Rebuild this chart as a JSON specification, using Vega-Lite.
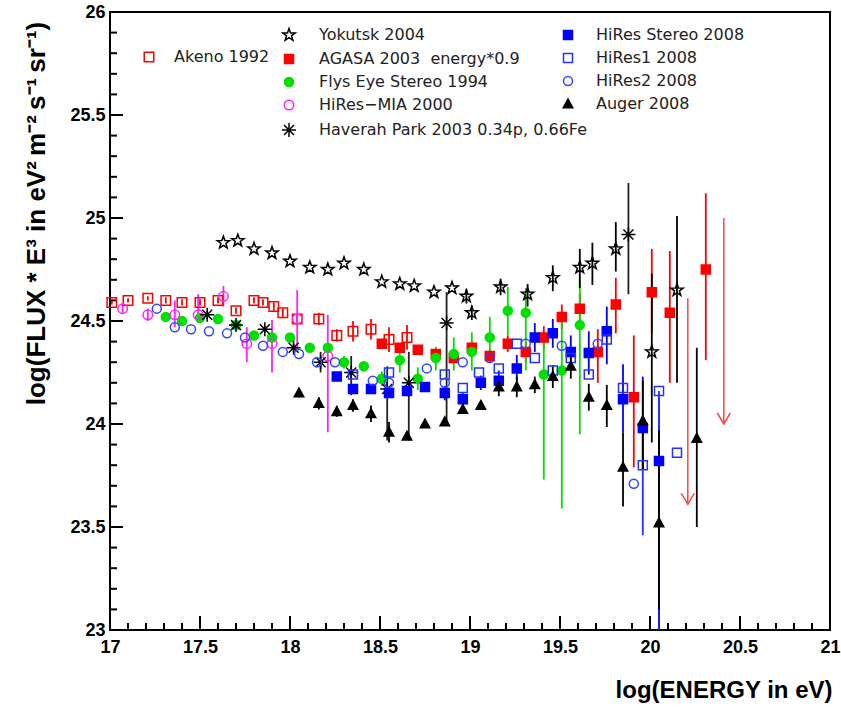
{
  "$schema": "https://vega.github.io/schema/vega-lite/v6.json",
  "width": 720,
  "height": 618,
  "autosize": {"type": "none"},
  "padding": {"left": 110, "top": 12, "right": 11, "bottom": 79},
  "background": "white",
  "datasets": {
    "xmaj": [{"v":17},{"v":17.5},{"v":18},{"v":18.5},{"v":19},{"v":19.5},{"v":20},{"v":20.5},{"v":21}],
    "xmin": [{"v":17.1},{"v":17.2},{"v":17.3},{"v":17.4},{"v":17.6},{"v":17.7},{"v":17.8},{"v":17.9},{"v":18.1},{"v":18.2},{"v":18.3},{"v":18.4},{"v":18.6},{"v":18.7},{"v":18.8},{"v":18.9},{"v":19.1},{"v":19.2},{"v":19.3},{"v":19.4},{"v":19.6},{"v":19.7},{"v":19.8},{"v":19.9},{"v":20.1},{"v":20.2},{"v":20.3},{"v":20.4},{"v":20.6},{"v":20.7},{"v":20.8},{"v":20.9}],
    "ymaj": [{"v":23},{"v":23.5},{"v":24},{"v":24.5},{"v":25},{"v":25.5},{"v":26}],
    "ymin": [{"v":23.1},{"v":23.2},{"v":23.3},{"v":23.4},{"v":23.6},{"v":23.7},{"v":23.8},{"v":23.9},{"v":24.1},{"v":24.2},{"v":24.3},{"v":24.4},{"v":24.6},{"v":24.7},{"v":24.8},{"v":24.9},{"v":25.1},{"v":25.2},{"v":25.3},{"v":25.4},{"v":25.6},{"v":25.7},{"v":25.8},{"v":25.9}],
    "pts": [
      {"s":"Akeno 1992","x":17.01,"y":24.59,"lo":24.58,"hi":24.60},
      {"s":"Akeno 1992","x":17.10,"y":24.60,"lo":24.59,"hi":24.61},
      {"s":"Akeno 1992","x":17.21,"y":24.61,"lo":24.60,"hi":24.62},
      {"s":"Akeno 1992","x":17.31,"y":24.60,"lo":24.585,"hi":24.615},
      {"s":"Akeno 1992","x":17.40,"y":24.59,"lo":24.575,"hi":24.605},
      {"s":"Akeno 1992","x":17.50,"y":24.59,"lo":24.575,"hi":24.605},
      {"s":"Akeno 1992","x":17.60,"y":24.60,"lo":24.585,"hi":24.615},
      {"s":"Akeno 1992","x":17.70,"y":24.55,"lo":24.535,"hi":24.565},
      {"s":"Akeno 1992","x":17.80,"y":24.60,"lo":24.585,"hi":24.615},
      {"s":"Akeno 1992","x":17.85,"y":24.59,"lo":24.575,"hi":24.605},
      {"s":"Akeno 1992","x":17.91,"y":24.57,"lo":24.55,"hi":24.59},
      {"s":"Akeno 1992","x":17.96,"y":24.54,"lo":24.52,"hi":24.56},
      {"s":"Akeno 1992","x":18.04,"y":24.51,"lo":24.49,"hi":24.53},
      {"s":"Akeno 1992","x":18.16,"y":24.51,"lo":24.48,"hi":24.54},
      {"s":"Akeno 1992","x":18.26,"y":24.43,"lo":24.40,"hi":24.46},
      {"s":"Akeno 1992","x":18.35,"y":24.45,"lo":24.40,"hi":24.50},
      {"s":"Akeno 1992","x":18.45,"y":24.46,"lo":24.41,"hi":24.51},
      {"s":"Akeno 1992","x":18.55,"y":24.41,"lo":24.35,"hi":24.47},
      {"s":"Akeno 1992","x":18.65,"y":24.42,"lo":24.36,"hi":24.48},

      {"s":"AGASA 2003\u00a0 energy*0.9","x":18.51,"y":24.39,"lo":24.375,"hi":24.405},
      {"s":"AGASA 2003\u00a0 energy*0.9","x":18.61,"y":24.37,"lo":24.355,"hi":24.385},
      {"s":"AGASA 2003\u00a0 energy*0.9","x":18.71,"y":24.36,"lo":24.345,"hi":24.375},
      {"s":"AGASA 2003\u00a0 energy*0.9","x":18.81,"y":24.34,"lo":24.315,"hi":24.365},
      {"s":"AGASA 2003\u00a0 energy*0.9","x":18.91,"y":24.32,"lo":24.295,"hi":24.345},
      {"s":"AGASA 2003\u00a0 energy*0.9","x":19.01,"y":24.37,"lo":24.34,"hi":24.40},
      {"s":"AGASA 2003\u00a0 energy*0.9","x":19.11,"y":24.33,"lo":24.30,"hi":24.36},
      {"s":"AGASA 2003\u00a0 energy*0.9","x":19.21,"y":24.39,"lo":24.35,"hi":24.43},
      {"s":"AGASA 2003\u00a0 energy*0.9","x":19.31,"y":24.35,"lo":24.30,"hi":24.40},
      {"s":"AGASA 2003\u00a0 energy*0.9","x":19.41,"y":24.42,"lo":24.365,"hi":24.475},
      {"s":"AGASA 2003\u00a0 energy*0.9","x":19.51,"y":24.52,"lo":24.46,"hi":24.58},
      {"s":"AGASA 2003\u00a0 energy*0.9","x":19.61,"y":24.56,"lo":24.485,"hi":24.635},
      {"s":"AGASA 2003\u00a0 energy*0.9","x":19.71,"y":24.35,"lo":24.20,"hi":24.46},
      {"s":"AGASA 2003\u00a0 energy*0.9","x":19.81,"y":24.58,"lo":24.44,"hi":24.71},
      {"s":"AGASA 2003\u00a0 energy*0.9","x":19.91,"y":24.13,"lo":23.79,"hi":24.43},
      {"s":"AGASA 2003\u00a0 energy*0.9","x":20.01,"y":24.64,"lo":24.44,"hi":24.85},
      {"s":"AGASA 2003\u00a0 energy*0.9","x":20.11,"y":24.54,"lo":24.20,"hi":24.84},
      {"s":"AGASA 2003\u00a0 energy*0.9","x":20.31,"y":24.75,"lo":24.31,"hi":25.12},

      {"s":"Flys Eye Stereo 1994","x":17.31,"y":24.52,"lo":24.505,"hi":24.535},
      {"s":"Flys Eye Stereo 1994","x":17.40,"y":24.50,"lo":24.485,"hi":24.515},
      {"s":"Flys Eye Stereo 1994","x":17.50,"y":24.515,"lo":24.50,"hi":24.53},
      {"s":"Flys Eye Stereo 1994","x":17.60,"y":24.51,"lo":24.495,"hi":24.525},
      {"s":"Flys Eye Stereo 1994","x":17.70,"y":24.48,"lo":24.465,"hi":24.495},
      {"s":"Flys Eye Stereo 1994","x":17.80,"y":24.43,"lo":24.415,"hi":24.445},
      {"s":"Flys Eye Stereo 1994","x":17.90,"y":24.42,"lo":24.405,"hi":24.435},
      {"s":"Flys Eye Stereo 1994","x":18.00,"y":24.42,"lo":24.405,"hi":24.435},
      {"s":"Flys Eye Stereo 1994","x":18.11,"y":24.37,"lo":24.35,"hi":24.39},
      {"s":"Flys Eye Stereo 1994","x":18.21,"y":24.37,"lo":24.35,"hi":24.39},
      {"s":"Flys Eye Stereo 1994","x":18.30,"y":24.30,"lo":24.27,"hi":24.33},
      {"s":"Flys Eye Stereo 1994","x":18.41,"y":24.28,"lo":24.255,"hi":24.305},
      {"s":"Flys Eye Stereo 1994","x":18.51,"y":24.22,"lo":24.185,"hi":24.255},
      {"s":"Flys Eye Stereo 1994","x":18.61,"y":24.31,"lo":24.25,"hi":24.37},
      {"s":"Flys Eye Stereo 1994","x":18.71,"y":24.22,"lo":24.165,"hi":24.275},
      {"s":"Flys Eye Stereo 1994","x":18.81,"y":24.32,"lo":24.26,"hi":24.375},
      {"s":"Flys Eye Stereo 1994","x":18.91,"y":24.34,"lo":24.26,"hi":24.42},
      {"s":"Flys Eye Stereo 1994","x":19.01,"y":24.35,"lo":24.26,"hi":24.445},
      {"s":"Flys Eye Stereo 1994","x":19.11,"y":24.42,"lo":24.325,"hi":24.52},
      {"s":"Flys Eye Stereo 1994","x":19.21,"y":24.55,"lo":24.43,"hi":24.665},
      {"s":"Flys Eye Stereo 1994","x":19.31,"y":24.54,"lo":24.26,"hi":24.66},
      {"s":"Flys Eye Stereo 1994","x":19.41,"y":24.24,"lo":23.73,"hi":24.42},
      {"s":"Flys Eye Stereo 1994","x":19.51,"y":24.26,"lo":23.59,"hi":24.52},
      {"s":"Flys Eye Stereo 1994","x":19.61,"y":24.48,"lo":23.95,"hi":24.71},

      {"s":"HiRes\u2212MIA 2000","x":17.07,"y":24.56,"lo":24.535,"hi":24.585},
      {"s":"HiRes\u2212MIA 2000","x":17.21,"y":24.53,"lo":24.50,"hi":24.56},
      {"s":"HiRes\u2212MIA 2000","x":17.36,"y":24.53,"lo":24.47,"hi":24.60},
      {"s":"HiRes\u2212MIA 2000","x":17.49,"y":24.53,"lo":24.49,"hi":24.63},
      {"s":"HiRes\u2212MIA 2000","x":17.63,"y":24.62,"lo":24.57,"hi":24.67},
      {"s":"HiRes\u2212MIA 2000","x":17.76,"y":24.39,"lo":24.30,"hi":24.47},
      {"s":"HiRes\u2212MIA 2000","x":17.90,"y":24.39,"lo":24.25,"hi":24.505},
      {"s":"HiRes\u2212MIA 2000","x":18.04,"y":24.51,"lo":24.36,"hi":24.65},
      {"s":"HiRes\u2212MIA 2000","x":18.21,"y":24.33,"lo":23.96,"hi":24.53},

      {"s":"Haverah Park 2003 0.34p, 0.66Fe","x":17.54,"y":24.53,"lo":24.51,"hi":24.55},
      {"s":"Haverah Park 2003 0.34p, 0.66Fe","x":17.70,"y":24.48,"lo":24.465,"hi":24.495},
      {"s":"Haverah Park 2003 0.34p, 0.66Fe","x":17.86,"y":24.46,"lo":24.445,"hi":24.475},
      {"s":"Haverah Park 2003 0.34p, 0.66Fe","x":18.02,"y":24.37,"lo":24.35,"hi":24.39},
      {"s":"Haverah Park 2003 0.34p, 0.66Fe","x":18.17,"y":24.30,"lo":24.25,"hi":24.35},
      {"s":"Haverah Park 2003 0.34p, 0.66Fe","x":18.34,"y":24.25,"lo":24.14,"hi":24.33},
      {"s":"Haverah Park 2003 0.34p, 0.66Fe","x":18.54,"y":24.17,"lo":23.92,"hi":24.28},
      {"s":"Haverah Park 2003 0.34p, 0.66Fe","x":18.66,"y":24.20,"lo":23.92,"hi":24.35},
      {"s":"Haverah Park 2003 0.34p, 0.66Fe","x":18.87,"y":24.49,"lo":24.00,"hi":24.64},
      {"s":"Haverah Park 2003 0.34p, 0.66Fe","x":19.88,"y":24.92,"lo":24.63,"hi":25.17},

      {"s":"Yokutsk 2004","x":17.63,"y":24.88},
      {"s":"Yokutsk 2004","x":17.71,"y":24.89},
      {"s":"Yokutsk 2004","x":17.80,"y":24.85},
      {"s":"Yokutsk 2004","x":17.90,"y":24.83},
      {"s":"Yokutsk 2004","x":18.00,"y":24.79},
      {"s":"Yokutsk 2004","x":18.11,"y":24.76},
      {"s":"Yokutsk 2004","x":18.21,"y":24.75},
      {"s":"Yokutsk 2004","x":18.30,"y":24.78},
      {"s":"Yokutsk 2004","x":18.41,"y":24.75},
      {"s":"Yokutsk 2004","x":18.51,"y":24.69},
      {"s":"Yokutsk 2004","x":18.61,"y":24.68},
      {"s":"Yokutsk 2004","x":18.69,"y":24.67},
      {"s":"Yokutsk 2004","x":18.80,"y":24.64},
      {"s":"Yokutsk 2004","x":18.90,"y":24.66},
      {"s":"Yokutsk 2004","x":18.98,"y":24.62,"lo":24.585,"hi":24.655},
      {"s":"Yokutsk 2004","x":19.01,"y":24.54,"lo":24.505,"hi":24.575},
      {"s":"Yokutsk 2004","x":19.17,"y":24.665,"lo":24.625,"hi":24.705},
      {"s":"Yokutsk 2004","x":19.32,"y":24.63,"lo":24.57,"hi":24.68},
      {"s":"Yokutsk 2004","x":19.46,"y":24.71,"lo":24.645,"hi":24.77},
      {"s":"Yokutsk 2004","x":19.61,"y":24.76,"lo":24.66,"hi":24.85},
      {"s":"Yokutsk 2004","x":19.68,"y":24.78,"lo":24.675,"hi":24.88},
      {"s":"Yokutsk 2004","x":19.81,"y":24.85,"lo":24.74,"hi":24.98},
      {"s":"Yokutsk 2004","x":20.01,"y":24.35,"lo":23.91,"hi":24.73},
      {"s":"Yokutsk 2004","x":20.15,"y":24.65,"lo":24.20,"hi":25.01},

      {"s":"HiRes Stereo 2008","x":18.26,"y":24.23,"lo":24.22,"hi":24.24},
      {"s":"HiRes Stereo 2008","x":18.35,"y":24.17,"lo":24.16,"hi":24.18},
      {"s":"HiRes Stereo 2008","x":18.45,"y":24.17,"lo":24.16,"hi":24.18},
      {"s":"HiRes Stereo 2008","x":18.55,"y":24.15,"lo":24.135,"hi":24.165},
      {"s":"HiRes Stereo 2008","x":18.65,"y":24.16,"lo":24.145,"hi":24.175},
      {"s":"HiRes Stereo 2008","x":18.75,"y":24.18,"lo":24.16,"hi":24.20},
      {"s":"HiRes Stereo 2008","x":18.86,"y":24.15,"lo":24.115,"hi":24.185},
      {"s":"HiRes Stereo 2008","x":18.96,"y":24.12,"lo":24.09,"hi":24.15},
      {"s":"HiRes Stereo 2008","x":19.06,"y":24.20,"lo":24.165,"hi":24.235},
      {"s":"HiRes Stereo 2008","x":19.16,"y":24.21,"lo":24.16,"hi":24.26},
      {"s":"HiRes Stereo 2008","x":19.26,"y":24.27,"lo":24.205,"hi":24.335},
      {"s":"HiRes Stereo 2008","x":19.36,"y":24.42,"lo":24.35,"hi":24.49},
      {"s":"HiRes Stereo 2008","x":19.46,"y":24.44,"lo":24.37,"hi":24.51},
      {"s":"HiRes Stereo 2008","x":19.56,"y":24.35,"lo":24.27,"hi":24.43},
      {"s":"HiRes Stereo 2008","x":19.66,"y":24.345,"lo":24.24,"hi":24.45},
      {"s":"HiRes Stereo 2008","x":19.76,"y":24.45,"lo":24.29,"hi":24.57},
      {"s":"HiRes Stereo 2008","x":19.85,"y":24.12,"lo":23.96,"hi":24.29},
      {"s":"HiRes Stereo 2008","x":19.96,"y":23.98,"lo":23.78,"hi":24.23},
      {"s":"HiRes Stereo 2008","x":20.05,"y":23.82,"lo":23.0,"hi":24.13},

      {"s":"HiRes1 2008","x":18.35,"y":24.24},
      {"s":"HiRes1 2008","x":18.55,"y":24.25},
      {"s":"HiRes1 2008","x":18.86,"y":24.24},
      {"s":"HiRes1 2008","x":18.96,"y":24.175},
      {"s":"HiRes1 2008","x":19.05,"y":24.25},
      {"s":"HiRes1 2008","x":19.16,"y":24.27},
      {"s":"HiRes1 2008","x":19.26,"y":24.39},
      {"s":"HiRes1 2008","x":19.36,"y":24.32},
      {"s":"HiRes1 2008","x":19.46,"y":24.26},
      {"s":"HiRes1 2008","x":19.56,"y":24.32},
      {"s":"HiRes1 2008","x":19.66,"y":24.24},
      {"s":"HiRes1 2008","x":19.76,"y":24.41},
      {"s":"HiRes1 2008","x":19.85,"y":24.175},
      {"s":"HiRes1 2008","x":19.96,"y":23.80,"lo":23.46,"hi":23.985},
      {"s":"HiRes1 2008","x":20.05,"y":24.16,"lo":23.97,"hi":24.16},
      {"s":"HiRes1 2008","x":20.15,"y":23.86},

      {"s":"HiRes2 2008","x":17.26,"y":24.56},
      {"s":"HiRes2 2008","x":17.36,"y":24.47},
      {"s":"HiRes2 2008","x":17.45,"y":24.46},
      {"s":"HiRes2 2008","x":17.55,"y":24.45},
      {"s":"HiRes2 2008","x":17.65,"y":24.44},
      {"s":"HiRes2 2008","x":17.75,"y":24.42},
      {"s":"HiRes2 2008","x":17.85,"y":24.38},
      {"s":"HiRes2 2008","x":17.96,"y":24.35},
      {"s":"HiRes2 2008","x":18.05,"y":24.34},
      {"s":"HiRes2 2008","x":18.15,"y":24.30},
      {"s":"HiRes2 2008","x":18.25,"y":24.30},
      {"s":"HiRes2 2008","x":18.46,"y":24.21},
      {"s":"HiRes2 2008","x":18.55,"y":24.20},
      {"s":"HiRes2 2008","x":18.76,"y":24.27},
      {"s":"HiRes2 2008","x":18.86,"y":24.20},
      {"s":"HiRes2 2008","x":18.96,"y":24.30},
      {"s":"HiRes2 2008","x":19.11,"y":24.32},
      {"s":"HiRes2 2008","x":19.31,"y":24.39},
      {"s":"HiRes2 2008","x":19.51,"y":24.38},
      {"s":"HiRes2 2008","x":19.71,"y":24.39},
      {"s":"HiRes2 2008","x":19.91,"y":23.71},

      {"s":"Auger 2008","x":18.05,"y":24.15,"lo":24.13,"hi":24.17},
      {"s":"Auger 2008","x":18.16,"y":24.10,"lo":24.07,"hi":24.13},
      {"s":"Auger 2008","x":18.26,"y":24.06,"lo":24.035,"hi":24.085},
      {"s":"Auger 2008","x":18.35,"y":24.09,"lo":24.06,"hi":24.12},
      {"s":"Auger 2008","x":18.45,"y":24.05,"lo":24.01,"hi":24.09},
      {"s":"Auger 2008","x":18.55,"y":23.96,"lo":23.91,"hi":24.01},
      {"s":"Auger 2008","x":18.65,"y":23.94},
      {"s":"Auger 2008","x":18.75,"y":24.00},
      {"s":"Auger 2008","x":18.86,"y":24.01},
      {"s":"Auger 2008","x":18.96,"y":24.07},
      {"s":"Auger 2008","x":19.06,"y":24.09},
      {"s":"Auger 2008","x":19.16,"y":24.18,"lo":24.135,"hi":24.225},
      {"s":"Auger 2008","x":19.26,"y":24.18,"lo":24.13,"hi":24.23},
      {"s":"Auger 2008","x":19.36,"y":24.19,"lo":24.15,"hi":24.23},
      {"s":"Auger 2008","x":19.46,"y":24.23,"lo":24.175,"hi":24.285},
      {"s":"Auger 2008","x":19.56,"y":24.28,"lo":24.22,"hi":24.34},
      {"s":"Auger 2008","x":19.66,"y":24.13,"lo":24.065,"hi":24.195},
      {"s":"Auger 2008","x":19.76,"y":24.09,"lo":23.985,"hi":24.19},
      {"s":"Auger 2008","x":19.85,"y":23.79,"lo":23.60,"hi":23.96},
      {"s":"Auger 2008","x":19.96,"y":24.015,"lo":23.78,"hi":24.21},
      {"s":"Auger 2008","x":20.05,"y":23.52,"lo":23.10,"hi":23.97},
      {"s":"Auger 2008","x":20.26,"y":23.93,"lo":23.50,"hi":24.37}
    ],
    "lim": [
      {"s":"AGASA upper limit","x":20.21,"hi":24.61,"lo":23.61},
      {"s":"AGASA upper limit","x":20.41,"hi":25.0,"lo":24.0}
    ]
  },
  "resolve": {
    "scale": {"x": "independent", "y": "independent", "color": "independent", "fill": "independent", "stroke": "independent", "shape": "independent"},
    "axis": {"x": "independent", "y": "independent"},
    "legend": {"fill": "independent", "stroke": "independent", "shape": "independent"}
  },
  "layer": [
    {
      "data": {"name": "pts"},
      "transform": [{"filter": "isValid(datum.lo)"}],
      "mark": {"type": "rule", "strokeWidth": 1.8},
      "encoding": {
        "x": {"field": "x", "type": "quantitative", "scale": {"domain": [17, 21], "nice": false, "zero": false},
              "axis": {"orient": "bottom", "values": [17,17.5,18,18.5,19,19.5,20,20.5,21], "format": "~g", "ticks": false, "domain": false, "grid": false, "labelPadding": 8,
                       "title": "log(ENERGY in eV)", "titleX": 722, "titleY": 60, "titleAlign": "right", "titleBaseline": "middle", "titleFontSize": 24}},
        "y": {"field": "lo", "type": "quantitative", "scale": {"domain": [23, 26], "nice": false, "zero": false},
              "axis": {"orient": "left", "values": [23,23.5,24,24.5,25,25.5,26], "format": "~g", "ticks": false, "domain": false, "grid": false, "labelPadding": 5,
                       "title": "log(FLUX * E³ in eV²\u2009m⁻²\u2009s⁻¹\u2009sr⁻¹)", "titleX": -74, "titleY": 201, "titleAngle": 270, "titleAlign": "center", "titleBaseline": "middle", "titleFontSize": 26}},
        "y2": {"field": "hi"},
        "color": {"field": "s", "type": "nominal", "legend": null,
                  "scale": {"domain": ["Akeno 1992","AGASA 2003\u00a0 energy*0.9","Flys Eye Stereo 1994","HiRes\u2212MIA 2000","Haverah Park 2003 0.34p, 0.66Fe","Yokutsk 2004","HiRes Stereo 2008","HiRes1 2008","HiRes2 2008","Auger 2008"],
                            "range": ["#ff0000","#ff0000","#00e000","#ff22ff","#222222","#000000","#0000ff","#2233ff","#3344ff","#000000"]}}
      }
    },
    {
      "data": {"name": "xmaj"},
      "mark": {"type": "tick", "orient": "vertical", "size": 14, "thickness": 2, "yOffset": -7, "color": "black", "opacity": 1},
      "encoding": {
        "x": {"field": "v", "type": "quantitative", "scale": {"domain": [17, 21], "nice": false, "zero": false}, "axis": null},
        "y": {"datum": 23, "type": "quantitative", "scale": {"domain": [23, 26], "nice": false, "zero": false}, "axis": null}
      }
    },
    {
      "data": {"name": "xmin"},
      "mark": {"type": "tick", "orient": "vertical", "size": 7, "thickness": 2, "yOffset": -3.5, "color": "black", "opacity": 1},
      "encoding": {
        "x": {"field": "v", "type": "quantitative", "scale": {"domain": [17, 21], "nice": false, "zero": false}, "axis": null},
        "y": {"datum": 23, "type": "quantitative", "scale": {"domain": [23, 26], "nice": false, "zero": false}, "axis": null}
      }
    },
    {
      "data": {"name": "ymaj"},
      "mark": {"type": "tick", "orient": "horizontal", "size": 13, "thickness": 2, "xOffset": 6.5, "color": "black", "opacity": 1},
      "encoding": {
        "y": {"field": "v", "type": "quantitative", "scale": {"domain": [23, 26], "nice": false, "zero": false}, "axis": null},
        "x": {"datum": 17, "type": "quantitative", "scale": {"domain": [17, 21], "nice": false, "zero": false}, "axis": null}
      }
    },
    {
      "data": {"name": "ymin"},
      "mark": {"type": "tick", "orient": "horizontal", "size": 7, "thickness": 2, "xOffset": 3.5, "color": "black", "opacity": 1},
      "encoding": {
        "y": {"field": "v", "type": "quantitative", "scale": {"domain": [23, 26], "nice": false, "zero": false}, "axis": null},
        "x": {"datum": 17, "type": "quantitative", "scale": {"domain": [17, 21], "nice": false, "zero": false}, "axis": null}
      }
    },
    {
      "data": {"name": "pts"},
      "transform": [{"filter": {"field": "s", "oneOf": ["Akeno 1992"]}}],
      "mark": {"type": "point", "size": 100, "strokeWidth": 1.5, "opacity": 1},
      "encoding": {
        "x": {"field": "x", "type": "quantitative", "scale": {"domain": [17, 21], "nice": false, "zero": false}, "axis": null},
        "y": {"field": "y", "type": "quantitative", "scale": {"domain": [23, 26], "nice": false, "zero": false}, "axis": null},
        "shape": {"field": "s", "type": "nominal", "scale": {"domain": ["Akeno 1992"], "range": ["M-0.95,-0.95L0.95,-0.95L0.95,0.95L-0.95,0.95Z"]},
                  "legend": {"title": null, "orient": "none", "legendX": 31, "legendY": 37, "labelOffset": 17}},
        "fill": {"field": "s", "type": "nominal", "scale": {"domain": ["Akeno 1992"], "range": ["transparent"]},
                 "legend": {"title": null, "orient": "none", "legendX": 31, "legendY": 37, "labelOffset": 17}},
        "stroke": {"field": "s", "type": "nominal", "scale": {"domain": ["Akeno 1992"], "range": ["#ff0000"]},
                   "legend": {"title": null, "orient": "none", "legendX": 31, "legendY": 37, "labelOffset": 17}}
      }
    },
    {
      "data": {"name": "pts"},
      "transform": [{"filter": {"field": "s", "oneOf": ["Yokutsk 2004","AGASA 2003\u00a0 energy*0.9","Flys Eye Stereo 1994","HiRes\u2212MIA 2000","Haverah Park 2003 0.34p, 0.66Fe"]}}],
      "mark": {"type": "point", "size": 100, "strokeWidth": 1.5, "opacity": 1},
      "encoding": {
        "x": {"field": "x", "type": "quantitative", "scale": {"domain": [17, 21], "nice": false, "zero": false}, "axis": null},
        "y": {"field": "y", "type": "quantitative", "scale": {"domain": [23, 26], "nice": false, "zero": false}, "axis": null},
        "shape": {"field": "s", "type": "nominal",
                  "scale": {"domain": ["Yokutsk 2004","AGASA 2003\u00a0 energy*0.9","Flys Eye Stereo 1994","HiRes\u2212MIA 2000","Haverah Park 2003 0.34p, 0.66Fe"],
                            "range": ["M0,-1.3L0.306,-0.421L1.236,-0.402L0.494,0.161L0.764,1.052L0,0.52L-0.764,1.052L-0.494,0.161L-1.236,-0.402L-0.306,-0.421Z",
                                      "M-0.9,-0.9L0.9,-0.9L0.9,0.9L-0.9,0.9Z",
                                      "M0.9,0A0.9,0.9,0,1,1,-0.9,0A0.9,0.9,0,1,1,0.9,0Z",
                                      "M0.95,0A0.95,0.95,0,1,1,-0.95,0A0.95,0.95,0,1,1,0.95,0Z",
                                      "M-1.4,0L1.4,0M0,-1.4L0,1.4M-1,-1L1,1M-1,1L1,-1"]},
                  "legend": {"title": null, "orient": "none", "legendX": 171, "legendY": 15, "labelOffset": 22}},
        "fill": {"field": "s", "type": "nominal",
                 "scale": {"domain": ["Yokutsk 2004","AGASA 2003\u00a0 energy*0.9","Flys Eye Stereo 1994","HiRes\u2212MIA 2000","Haverah Park 2003 0.34p, 0.66Fe"],
                           "range": ["transparent","#ff0000","#00e000","transparent","transparent"]},
                 "legend": {"title": null, "orient": "none", "legendX": 171, "legendY": 15, "labelOffset": 22}},
        "stroke": {"field": "s", "type": "nominal",
                   "scale": {"domain": ["Yokutsk 2004","AGASA 2003\u00a0 energy*0.9","Flys Eye Stereo 1994","HiRes\u2212MIA 2000","Haverah Park 2003 0.34p, 0.66Fe"],
                             "range": ["#000000","#ff0000","#00e000","#ff22ff","#000000"]},
                   "legend": {"title": null, "orient": "none", "legendX": 171, "legendY": 15, "labelOffset": 22}}
      }
    },
    {
      "data": {"name": "pts"},
      "transform": [{"filter": {"field": "s", "oneOf": ["HiRes Stereo 2008","HiRes1 2008","HiRes2 2008","Auger 2008"]}}],
      "mark": {"type": "point", "size": 100, "strokeWidth": 1.5, "opacity": 1},
      "encoding": {
        "x": {"field": "x", "type": "quantitative", "scale": {"domain": [17, 21], "nice": false, "zero": false}, "axis": null},
        "y": {"field": "y", "type": "quantitative", "scale": {"domain": [23, 26], "nice": false, "zero": false}, "axis": null},
        "shape": {"field": "s", "type": "nominal",
                  "scale": {"domain": ["HiRes Stereo 2008","HiRes1 2008","HiRes2 2008","Auger 2008"],
                            "range": ["M-0.9,-0.9L0.9,-0.9L0.9,0.9L-0.9,0.9Z",
                                      "M-0.9,-0.9L0.9,-0.9L0.9,0.9L-0.9,0.9Z",
                                      "M0.9,0A0.9,0.9,0,1,1,-0.9,0A0.9,0.9,0,1,1,0.9,0Z",
                                      "M0,-1L0.95,0.75L-0.95,0.75Z"]},
                  "legend": {"title": null, "orient": "none", "legendX": 450, "legendY": 15, "labelOffset": 20}},
        "fill": {"field": "s", "type": "nominal",
                 "scale": {"domain": ["HiRes Stereo 2008","HiRes1 2008","HiRes2 2008","Auger 2008"],
                           "range": ["#0000ff","transparent","transparent","#000000"]},
                 "legend": {"title": null, "orient": "none", "legendX": 450, "legendY": 15, "labelOffset": 20}},
        "stroke": {"field": "s", "type": "nominal",
                   "scale": {"domain": ["HiRes Stereo 2008","HiRes1 2008","HiRes2 2008","Auger 2008"],
                             "range": ["#0000ff","#2233ff","#3344ff","#000000"]},
                   "legend": {"title": null, "orient": "none", "legendX": 450, "legendY": 15, "labelOffset": 20}}
      }
    },
    {
      "data": {"name": "lim"},
      "mark": {"type": "rule", "strokeWidth": 1.5, "color": "#ff4444"},
      "encoding": {
        "x": {"field": "x", "type": "quantitative", "scale": {"domain": [17, 21], "nice": false, "zero": false}, "axis": null},
        "y": {"field": "hi", "type": "quantitative", "scale": {"domain": [23, 26], "nice": false, "zero": false}, "axis": null},
        "y2": {"field": "lo"}
      }
    },
    {
      "data": {"name": "lim"},
      "mark": {"type": "point", "shape": "M-1.3,-2.2L0,0L1.3,-2.2", "size": 100, "strokeWidth": 1.5, "stroke": "#ff4444", "fill": "transparent", "opacity": 1},
      "encoding": {
        "x": {"field": "x", "type": "quantitative", "scale": {"domain": [17, 21], "nice": false, "zero": false}, "axis": null},
        "y": {"field": "lo", "type": "quantitative", "scale": {"domain": [23, 26], "nice": false, "zero": false}, "axis": null}
      }
    }
  ],
  "config": {
    "view": {"stroke": "black", "strokeWidth": 2},
    "axis": {
      "labelFont": "Liberation Sans Narrow, Liberation Sans", "labelFontWeight": "bold", "labelFontSize": 18, "labelColor": "black",
      "titleFont": "Liberation Sans", "titleFontWeight": "bold", "titleFontSize": 23, "titleColor": "black",
      "labelFlush": false, "labelOverlap": false, "grid": false
    },
    "legend": {
      "orient": "none", "padding": 0, "labelFont": "DejaVu Sans", "labelFontSize": 16, "labelColor": "#222222",
      "symbolSize": 100, "symbolStrokeWidth": 1.5, "rowPadding": 7, "labelLimit": 400
    }
  }
}
